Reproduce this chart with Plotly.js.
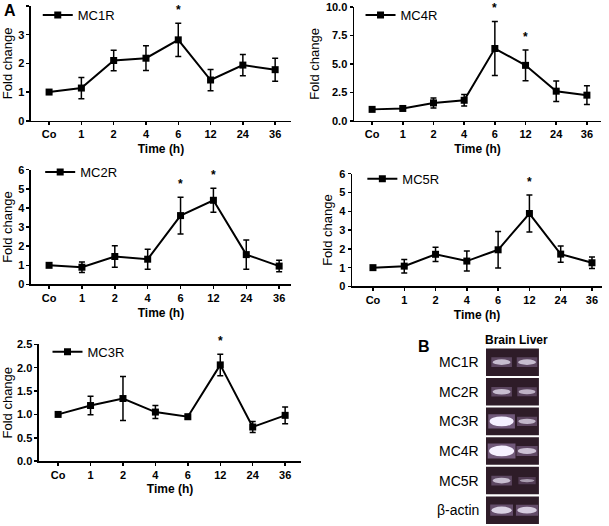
<!DOCTYPE html>
<html>
<head>
<meta charset="utf-8">
<script src="https://cdn.plot.ly/plotly-3.0.1.min.js"></script>
<style>
  body { margin: 0; background: #fff; }
  #plot { width: 609px; height: 526px; }
</style>
</head>
<body>
<div id="plot"></div>
<script>
// Time points (x categories)
let timePoints = ['Co', '1', '2', '4', '6', '12', '24', '36'];

// Fold change (mean) and error for each receptor
let mc1rMean = [1.0, 1.14, 2.1, 2.18, 2.82, 1.42, 1.94, 1.78];
let mc1rErr = [0.03, 0.37, 0.36, 0.43, 0.58, 0.37, 0.37, 0.4];
let mc1rSig = ['6'];

let mc4rMean = [1.0, 1.08, 1.57, 1.8, 6.35, 4.87, 2.6, 2.25];
let mc4rErr = [0.05, 0.12, 0.44, 0.5, 2.38, 1.35, 0.9, 0.83];
let mc4rSig = ['6', '12'];

let mc2rMean = [1.0, 0.9, 1.46, 1.32, 3.6, 4.4, 1.56, 0.96];
let mc2rErr = [0.03, 0.27, 0.56, 0.52, 0.96, 0.63, 0.76, 0.3];
let mc2rSig = ['6', '12'];

let mc5rMean = [1.0, 1.08, 1.71, 1.35, 1.95, 3.88, 1.72, 1.26];
let mc5rErr = [0.03, 0.36, 0.38, 0.53, 0.97, 0.98, 0.43, 0.3];
let mc5rSig = ['12'];

let mc3rMean = [1.0, 1.19, 1.34, 1.05, 0.95, 2.06, 0.73, 0.98];
let mc3rErr = [0.02, 0.2, 0.47, 0.14, 0.05, 0.23, 0.12, 0.18];
let mc3rSig = ['12'];

// Gel (panel B): rows and relative band intensity per lane
let gelRows = ['MC1R', 'MC2R', 'MC3R', 'MC4R', 'MC5R', 'β-actin'];
let gelLanes = ['Brain', 'Liver'];
let brainBands = [0.45, 0.45, 1.0, 1.1, 0.45, 0.65];
let liverBands = [0.45, 0.35, 0.4, 0.5, 0.15, 0.6];

let font = 'Liberation Sans, Arial, sans-serif';

// Panel placement (paper fractions) and axis settings
let panels = [
  {name: 'MC1R', mean: mc1rMean, err: mc1rErr, sig: mc1rSig, ax: '',
   xdom: [0.0509, 0.4778], ydom: [0.7719, 0.9905], xr: [-0.56, 7.49], yr: [0, 4], dtick: 1, fmt: 'd',
   leg: [0.062, 0.973]},
  {name: 'MC4R', mean: mc4rMean, err: mc4rErr, sig: mc4rSig, ax: '2',
   xdom: [0.5813, 0.9869], ydom: [0.7719, 0.9886], xr: [-0.59, 7.46], yr: [0, 10], dtick: 2.5, fmt: '.1f',
   leg: [0.592, 0.973]},
  {name: 'MC2R', mean: mc2rMean, err: mc2rErr, sig: mc2rSig, ax: '3',
   xdom: [0.0509, 0.4778], ydom: [0.4601, 0.6787], xr: [-0.55, 7.36], yr: [0, 6], dtick: 1, fmt: 'd',
   leg: [0.066, 0.673]},
  {name: 'MC5R', mean: mc5rMean, err: mc5rErr, sig: mc5rSig, ax: '4',
   xdom: [0.578, 0.9885], ydom: [0.4563, 0.6711], xr: [-0.67, 7.32], yr: [0, 6], dtick: 1, fmt: 'd',
   leg: [0.595, 0.660]},
  {name: 'MC3R', mean: mc3rMean, err: mc3rErr, sig: mc3rSig, ax: '5',
   xdom: [0.064, 0.4943], ydom: [0.1236, 0.3460], xr: [-0.59, 7.49], yr: [0, 2.5], dtick: 0.5, fmt: '.1f',
   leg: [0.078, 0.331]}
];

let data = [];
let layout = {
  width: 609,
  height: 526,
  margin: {l: 0, r: 0, t: 0, b: 0},
  paper_bgcolor: '#fff',
  plot_bgcolor: 'rgba(0,0,0,0)',
  font: {family: font, color: '#000'},
  annotations: [],
  shapes: []
};

panels.forEach(function (p, i) {
  let legName = i === 0 ? 'legend' : 'legend' + (i + 1);

  // line + error bars
  data.push({
    x: timePoints,
    y: p.mean,
    name: p.name,
    type: 'scatter',
    mode: 'lines+markers',
    xaxis: 'x' + p.ax,
    yaxis: 'y' + p.ax,
    legend: legName,
    showlegend: true,
    line: {color: '#000', width: 2},
    marker: {symbol: 'square', size: 7, color: '#000'},
    error_y: {type: 'data', array: p.err, visible: true, color: '#000', thickness: 1.5, width: 3},
    cliponaxis: false
  });

  layout['xaxis' + p.ax] = {
    domain: p.xdom,
    anchor: 'y' + p.ax,
    type: 'category',
    range: p.xr,
    showline: true, linecolor: '#000', linewidth: 1.5,
    ticks: 'outside', ticklen: 3, tickwidth: 1.5, tickcolor: '#000',
    tickfont: {family: font, size: 11, weight: 'bold'},
    showgrid: false, zeroline: false,
    title: {text: 'Time (h)', font: {family: font, size: 12, weight: 'bold'}, standoff: 5}
  };
  layout['yaxis' + p.ax] = {
    domain: p.ydom,
    anchor: 'x' + p.ax,
    range: p.yr,
    dtick: p.dtick,
    tickformat: p.fmt,
    showline: true, linecolor: '#000', linewidth: 1.5,
    ticks: 'outside', ticklen: 3, tickwidth: 1.5, tickcolor: '#000',
    tickfont: {family: font, size: 11, weight: 'bold'},
    showgrid: false, zeroline: false,
    title: {text: 'Fold change', font: {family: font, size: 13}, standoff: 3}
  };
  layout[legName] = {
    x: p.leg[0], y: p.leg[1],
    xanchor: 'left', yanchor: 'middle',
    bgcolor: 'rgba(0,0,0,0)',
    font: {family: font, size: 13},
    itemwidth: 30
  };

  // significance asterisks above the error bars (category index on the axis)
  p.sig.forEach(function (t) {
    let k = timePoints.indexOf(t);
    layout.annotations.push({
      x: k, y: p.mean[k] + p.err[k],
      xref: 'x' + p.ax, yref: 'y' + p.ax,
      text: '*', showarrow: false, yanchor: 'bottom', yshift: 4,
      font: {family: font, size: 12, weight: 'bold'}
    });
  });
});

// Panel B gel axes (hidden)
layout.xaxis6 = {domain: [0.798, 0.885], range: [0, 2], anchor: 'y6', visible: false, fixedrange: true};
layout.yaxis6 = {domain: [0.0019, 0.3403], range: [6, 0], anchor: 'x6', visible: false, fixedrange: true};
// invisible trace so the gel axes exist
data.push({x: [0, 2], y: [0, 6], xaxis: 'x6', yaxis: 'y6', mode: 'markers',
  marker: {opacity: 0}, showlegend: false, hoverinfo: 'skip'});

let laneCenters = [0.59, 1.55];
gelRows.forEach(function (row, i) {
  layout.shapes.push({
    type: 'rect', xref: 'x6', yref: 'y6',
    x0: 0, x1: 2, y0: i + 0.035, y1: i + 0.965,
    fillcolor: '#2e1c28', line: {width: 0}, layer: 'below'
  });
  [brainBands[i], liverBands[i]].forEach(function (v, j) {
    let w = (13 + 11 * v) / 26.5;
    let h = (2 + 8 * v) / 29.7;
    let cx = laneCenters[j];
    let cy = i + 0.5;
    // glow
    layout.shapes.push({
      type: 'rect', xref: 'x6', yref: 'y6',
      x0: cx - w / 2 - 0.05, x1: cx + w / 2 + 0.05,
      y0: cy - h / 2 - 0.07, y1: cy + h / 2 + 0.07,
      fillcolor: 'rgba(170,140,190,' + (0.25 + 0.3 * Math.min(v, 1)) + ')', line: {width: 0}
    });
    // band core
    layout.shapes.push({
      type: 'circle', xref: 'x6', yref: 'y6',
      x0: cx - w / 2, x1: cx + w / 2,
      y0: cy - h / 2, y1: cy + h / 2,
      fillcolor: 'rgba(245,240,255,' + (0.45 + 0.55 * Math.min(v, 1)) + ')', line: {width: 0}
    });
  });
  layout.annotations.push({
    x: 0.79, xref: 'paper', xanchor: 'right',
    y: i + 0.5, yref: 'y6', yanchor: 'middle',
    text: row, showarrow: false,
    font: {family: font, size: 14}
  });
});

layout.annotations.push({
  x: 0.793, y: 1 - 340 / 526, xref: 'paper', yref: 'paper',
  xanchor: 'left', yanchor: 'middle', showarrow: false,
  text: gelLanes.join(' '), font: {family: font, size: 12, weight: 'bold'}
});

// Panel letters
layout.annotations.push({
  x: 0.003, y: 1 - 10 / 526, xref: 'paper', yref: 'paper',
  xanchor: 'left', yanchor: 'middle', showarrow: false,
  text: 'A', font: {family: font, size: 16, weight: 'bold'}
});
layout.annotations.push({
  x: 0.683, y: 1 - 346 / 526, xref: 'paper', yref: 'paper',
  xanchor: 'left', yanchor: 'middle', showarrow: false,
  text: 'B', font: {family: font, size: 16, weight: 'bold'}
});

// Create the plot
Plotly.newPlot('plot', data, layout, {displayModeBar: false, staticPlot: true});
</script>
</body>
</html>
